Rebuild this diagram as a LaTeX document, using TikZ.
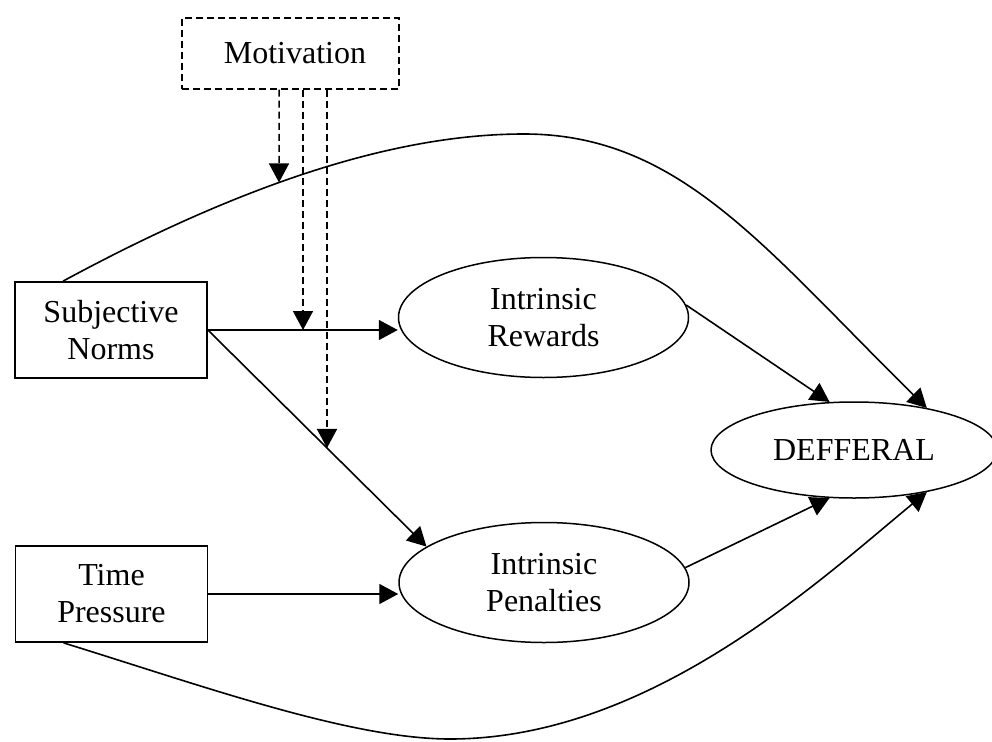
\documentclass[tikz,border=0pt]{standalone}
\usepackage{fontspec}
\setmainfont{Liberation Serif}
\usetikzlibrary{arrows.meta,shapes.geometric,intersections,calc}
\begin{document}
\begin{tikzpicture}[x=1pt,y=-1pt,
  every node/.style={font=\fontsize{32}{37}\selectfont, align=center, inner sep=0pt},
  factorbox/.style={draw, rectangle, line width=1.8pt, minimum width=192pt, minimum height=96pt},
  latent/.style={draw, ellipse, line width=1.5pt, minimum width=290pt, minimum height=120pt},
  dashbox/.style={draw, rectangle, line width=1.5pt, dash pattern=on 7pt off 4pt},
  link/.style={line width=1.6pt, -{Triangle[length=19pt,width=20pt]}},
  moderator/.style={link, line width=1.5pt, dash pattern=on 7pt off 4pt}]
  \useasboundingbox (0,0) rectangle (992,741);

  % constructs
  \node[factorbox] (sn) at (111,330) {Subjective\\Norms};
  \node[factorbox] (tp) at (111.5,594) {Time\\Pressure};
  \node[dashbox, minimum width=217pt, minimum height=71pt] (mot) at (290.5,53.5) {\hspace*{9pt}Motivation};
  \node[latent] (rw) at (543.5,317.5) {Intrinsic\\Rewards};
  \node[latent] (pn) at (544,582.5) {Intrinsic\\Penalties};
  \node[latent, minimum width=286pt, minimum height=96pt] (df) at (854,450) {DEFFERAL};

  % direct paths
  \draw[link] (sn.east) -- (sn.east -| rw.west);
  \draw[link, name path=diag] (sn.east) -- (pn.163);
  \draw[link] (tp.east) -- (tp.east -| pn.west);
  \draw[link] (rw.5) -- (df.117);
  \draw[link] (pn.6) -- (df.243);

  % long arcs from the two antecedents to deferral
  \coordinate (snTop) at ($(sn.north west)+(49,0)$);
  \coordinate (tpBot) at ($(tp.south west)+(49,0)$);
  \draw[link, name path=top] (snTop) .. controls (250,180) and (400,134) .. (524,134)
    .. controls (680,134) and (765,249) .. (df.30);
  \draw[link] (tpBot) .. controls (200,685) and (350,739) .. (450,739)
    .. controls (650,739) and (820,580) .. (df.-30);

  % moderating effects of motivation
  \coordinate (x1) at (279,0);
  \coordinate (x2) at (303,0);
  \coordinate (x3) at (327,0);
  \path[name path=v1] (x1) -- ++(0,400);
  \path[name intersections={of=v1 and top, by=t1}];
  \path[name path=v3] (x3) -- ++(0,600);
  \path[name intersections={of=v3 and diag, by=t3}];
  \draw[moderator] (x1 |- mot.south) -- (t1);
  \draw[moderator] (x2 |- mot.south) -- (x2 |- sn.east);
  \draw[moderator] (x3 |- mot.south) -- (t3);
\end{tikzpicture}
\end{document}
